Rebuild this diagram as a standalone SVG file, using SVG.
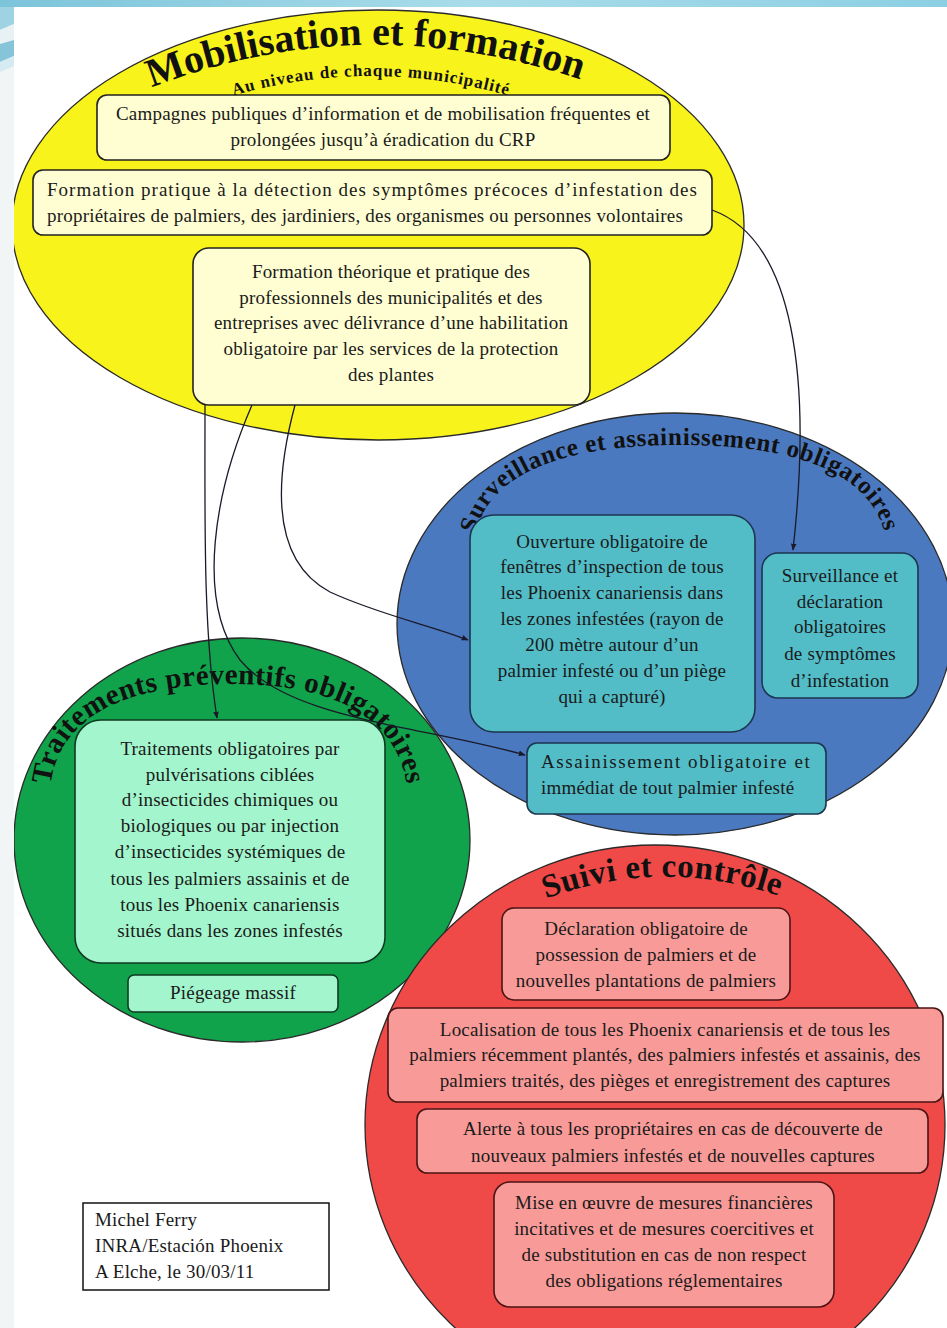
<svg xmlns="http://www.w3.org/2000/svg" width="947" height="1328" viewBox="0 0 947 1328">
<defs>
<style>
.t{font-family:"Liberation Serif","Times New Roman",serif;font-size:19px;letter-spacing:0.2px;fill:#1a1a1a;text-anchor:middle}
.tl{font-family:"Liberation Serif","Times New Roman",serif;font-size:19px;letter-spacing:0.2px;fill:#1a1a1a}
.ttl{font-family:"Liberation Serif","Times New Roman",serif;font-weight:bold;fill:#111;text-anchor:middle}
.ell{stroke:#2a2a2a;stroke-width:1.3}
.bx{stroke:#222;stroke-width:1.6}
.y{fill:#fefed2}
.tb{fill:#52bcc7;stroke:#1c3550}
.mb{fill:#a2f5cc;stroke:#0f3a22}
.pb{fill:#f89a98;stroke:#4a1414}
.con{fill:none;stroke:#1a1a2a;stroke-width:1.3;marker-end:url(#ah)}
</style>
<marker id="ah" viewBox="0 0 10 10" refX="9" refY="5" markerWidth="7" markerHeight="7" orient="auto" markerUnits="userSpaceOnUse">
<path d="M0,1 L10,5 L0,9 z" fill="#1a1a2a"/>
</marker>
<linearGradient id="band" x1="0" y1="0" x2="1" y2="0">
<stop offset="0" stop-color="#7cc4da"/>
<stop offset="0.5" stop-color="#a9dcea"/>
<stop offset="1" stop-color="#8ccfe3"/>
</linearGradient>
<path id="pY1" d="M 150 88 Q 362 6 582 80"/>
<path id="pY2" d="M 222 99 Q 370 53 520 99"/>
<path id="pB" d="M 473 550 C 478 470, 570 445, 680 445 C 790 445, 880 470, 887 548"/>
<path id="pG" d="M 50 802 C 48 716, 128 684, 232 684 C 332 684, 406 716, 408 802"/>
<path id="pR" d="M 530 905 Q 662 850 795 902"/>
</defs>
<rect x="0" y="0" width="947" height="1328" fill="#ffffff"/>

<g id="surveillance">
<ellipse class="ell" cx="675" cy="624" rx="278" ry="211" fill="#4b79bf"/>
<text class="ttl" font-size="25" letter-spacing="0.6"><textPath href="#pB" startOffset="50%">Surveillance et assainissement obligatoires</textPath></text>
</g>
<g id="mobilisation">
<ellipse class="ell" cx="378" cy="225" rx="366" ry="215" fill="#f9f31c"/>
<text class="ttl" font-size="40"><textPath href="#pY1" startOffset="50%">Mobilisation et formation</textPath></text>
<text class="ttl" font-size="17" letter-spacing="1"><textPath href="#pY2" startOffset="50%">Au niveau de chaque municipalité</textPath></text>
</g>
<g id="traitements">
<ellipse class="ell" cx="242" cy="840" rx="228" ry="202" fill="#10a34b"/>
<text class="ttl" font-size="29" letter-spacing="0.5"><textPath href="#pG" startOffset="50%">Traitements préventifs obligatoires</textPath></text>
</g>
<g id="suivi">
<ellipse class="ell" cx="655" cy="1125" rx="290" ry="280" fill="#f04a48"/>
<text class="ttl" font-size="33" letter-spacing="0.5"><textPath href="#pR" startOffset="50%">Suivi et contrôle</textPath></text>
</g>

<g id="campagnes">
<rect class="bx y" x="97" y="95" width="573" height="65" rx="10"/>
<text class="t" x="383" y="120">Campagnes publiques d’information et de mobilisation fréquentes et</text>
<text class="t" x="383" y="146">prolongées jusqu’à éradication du CRP</text>
</g>
<g id="formation-pratique">
<rect class="bx y" x="33" y="170" width="679" height="65" rx="10"/>
<text class="tl" x="47" y="196" textLength="650" lengthAdjust="spacing">Formation pratique à la détection des symptômes précoces d’infestation des</text>
<text class="tl" x="47" y="222">propriétaires de palmiers, des jardiniers, des organismes ou personnes volontaires</text>
</g>
<g id="formation-theorique">
<rect class="bx y" x="193" y="248" width="397" height="157" rx="16"/>
<text class="t" x="391" y="278">Formation théorique et pratique des</text>
<text class="t" x="391" y="304">professionnels des municipalités et des</text>
<text class="t" x="391" y="329">entreprises avec délivrance d’une habilitation</text>
<text class="t" x="391" y="355">obligatoire par les services de la protection</text>
<text class="t" x="391" y="381">des plantes</text>
</g>

<g id="ouverture">
<rect class="bx tb" x="470" y="515" width="285" height="217" rx="24"/>
<text class="t" x="612" y="548">Ouverture obligatoire de</text>
<text class="t" x="612" y="573">fenêtres d’inspection de tous</text>
<text class="t" x="612" y="599">les Phoenix canariensis dans</text>
<text class="t" x="612" y="625">les zones infestées (rayon de</text>
<text class="t" x="612" y="651">200 mètre autour d’un</text>
<text class="t" x="612" y="677">palmier infesté ou d’un piège</text>
<text class="t" x="612" y="703">qui a capturé)</text>
</g>
<g id="surveillance-declaration">
<rect class="bx tb" x="762" y="553" width="156" height="145" rx="16"/>
<text class="t" x="840" y="582">Surveillance et</text>
<text class="t" x="840" y="608">déclaration</text>
<text class="t" x="840" y="633">obligatoires</text>
<text class="t" x="840" y="660">de symptômes</text>
<text class="t" x="840" y="687">d’infestation</text>
</g>
<g id="assainissement">
<rect class="bx tb" x="527" y="743" width="299" height="71" rx="10"/>
<text class="tl" x="541" y="768" textLength="269" lengthAdjust="spacing">Assainissement obligatoire et</text>
<text class="tl" x="541" y="794">immédiat de tout palmier infesté</text>
</g>

<g id="traitements-box">
<rect class="bx mb" x="75" y="720" width="310" height="243" rx="26"/>
<text class="t" x="230" y="755">Traitements obligatoires par</text>
<text class="t" x="230" y="781">pulvérisations ciblées</text>
<text class="t" x="230" y="806">d’insecticides chimiques ou</text>
<text class="t" x="230" y="832">biologiques ou par injection</text>
<text class="t" x="230" y="858">d’insecticides systémiques de</text>
<text class="t" x="230" y="885">tous les palmiers assainis et de</text>
<text class="t" x="230" y="911">tous les Phoenix canariensis</text>
<text class="t" x="230" y="937">situés dans les zones infestés</text>
</g>
<g id="piegeage">
<rect class="bx mb" x="128" y="975" width="210" height="37" rx="6"/>
<text class="t" x="233" y="999">Piégeage massif</text>
</g>

<g id="declaration">
<rect class="bx pb" x="502" y="908" width="288" height="92" rx="12"/>
<text class="t" x="646" y="935">Déclaration obligatoire de</text>
<text class="t" x="646" y="961">possession de palmiers et de</text>
<text class="t" x="646" y="987">nouvelles plantations de palmiers</text>
</g>
<g id="localisation">
<rect class="bx pb" x="388" y="1008" width="555" height="94" rx="10"/>
<text class="t" x="665" y="1036">Localisation de tous les Phoenix canariensis et de tous les</text>
<text class="t" x="665" y="1061">palmiers récemment plantés, des palmiers infestés et assainis, des</text>
<text class="t" x="665" y="1087">palmiers traités, des pièges et enregistrement des captures</text>
</g>
<g id="alerte">
<rect class="bx pb" x="417" y="1109" width="511" height="64" rx="10"/>
<text class="t" x="673" y="1135">Alerte à tous les propriétaires en cas de découverte de</text>
<text class="t" x="673" y="1162">nouveaux palmiers infestés et de nouvelles captures</text>
</g>
<g id="mesures">
<rect class="bx pb" x="494" y="1182" width="340" height="125" rx="16"/>
<text class="t" x="664" y="1209">Mise en œuvre de mesures financières</text>
<text class="t" x="664" y="1235">incitatives et de mesures coercitives et</text>
<text class="t" x="664" y="1261">de substitution en cas de non respect</text>
<text class="t" x="664" y="1287">des obligations réglementaires</text>
</g>

<g id="connectors">
<path class="con" d="M 712 210 C 795 240, 812 380, 793 550"/>
<path class="con" d="M 205 405 C 205 520, 203 630, 217 718"/>
<path class="con" d="M 252 405 C 215 490, 195 600, 240 660 C 290 720, 420 725, 525 755"/>
<path class="con" d="M 295 405 C 275 480, 270 560, 330 592 C 380 615, 430 625, 468 640"/>
</g>

<g id="signature">
<rect x="83" y="1203" width="246" height="87" fill="#ffffff" stroke="#111" stroke-width="1.5"/>
<text class="tl" x="95" y="1226">Michel Ferry</text>
<text class="tl" x="95" y="1252">INRA/Estación Phoenix</text>
<text class="tl" x="95" y="1278">A Elche, le 30/03/11</text>
</g>

<g id="frame">
<rect x="0" y="0" width="14" height="1328" fill="#f2f5f6"/>
<rect x="0" y="0" width="947" height="7" fill="url(#band)"/>
<path d="M0 7 L14 7 L14 24 L0 30 Z" fill="#9fd3e4"/>
<path d="M0 30 L14 24 L14 40 L0 44 Z" fill="#e8f2f5"/>
<path d="M0 44 L14 40 L14 56 L0 62 Z" fill="#86c4d9"/>
<path d="M0 62 L14 56 L14 66 L0 72 Z" fill="#d5eaf1"/>
</g>
</svg>
